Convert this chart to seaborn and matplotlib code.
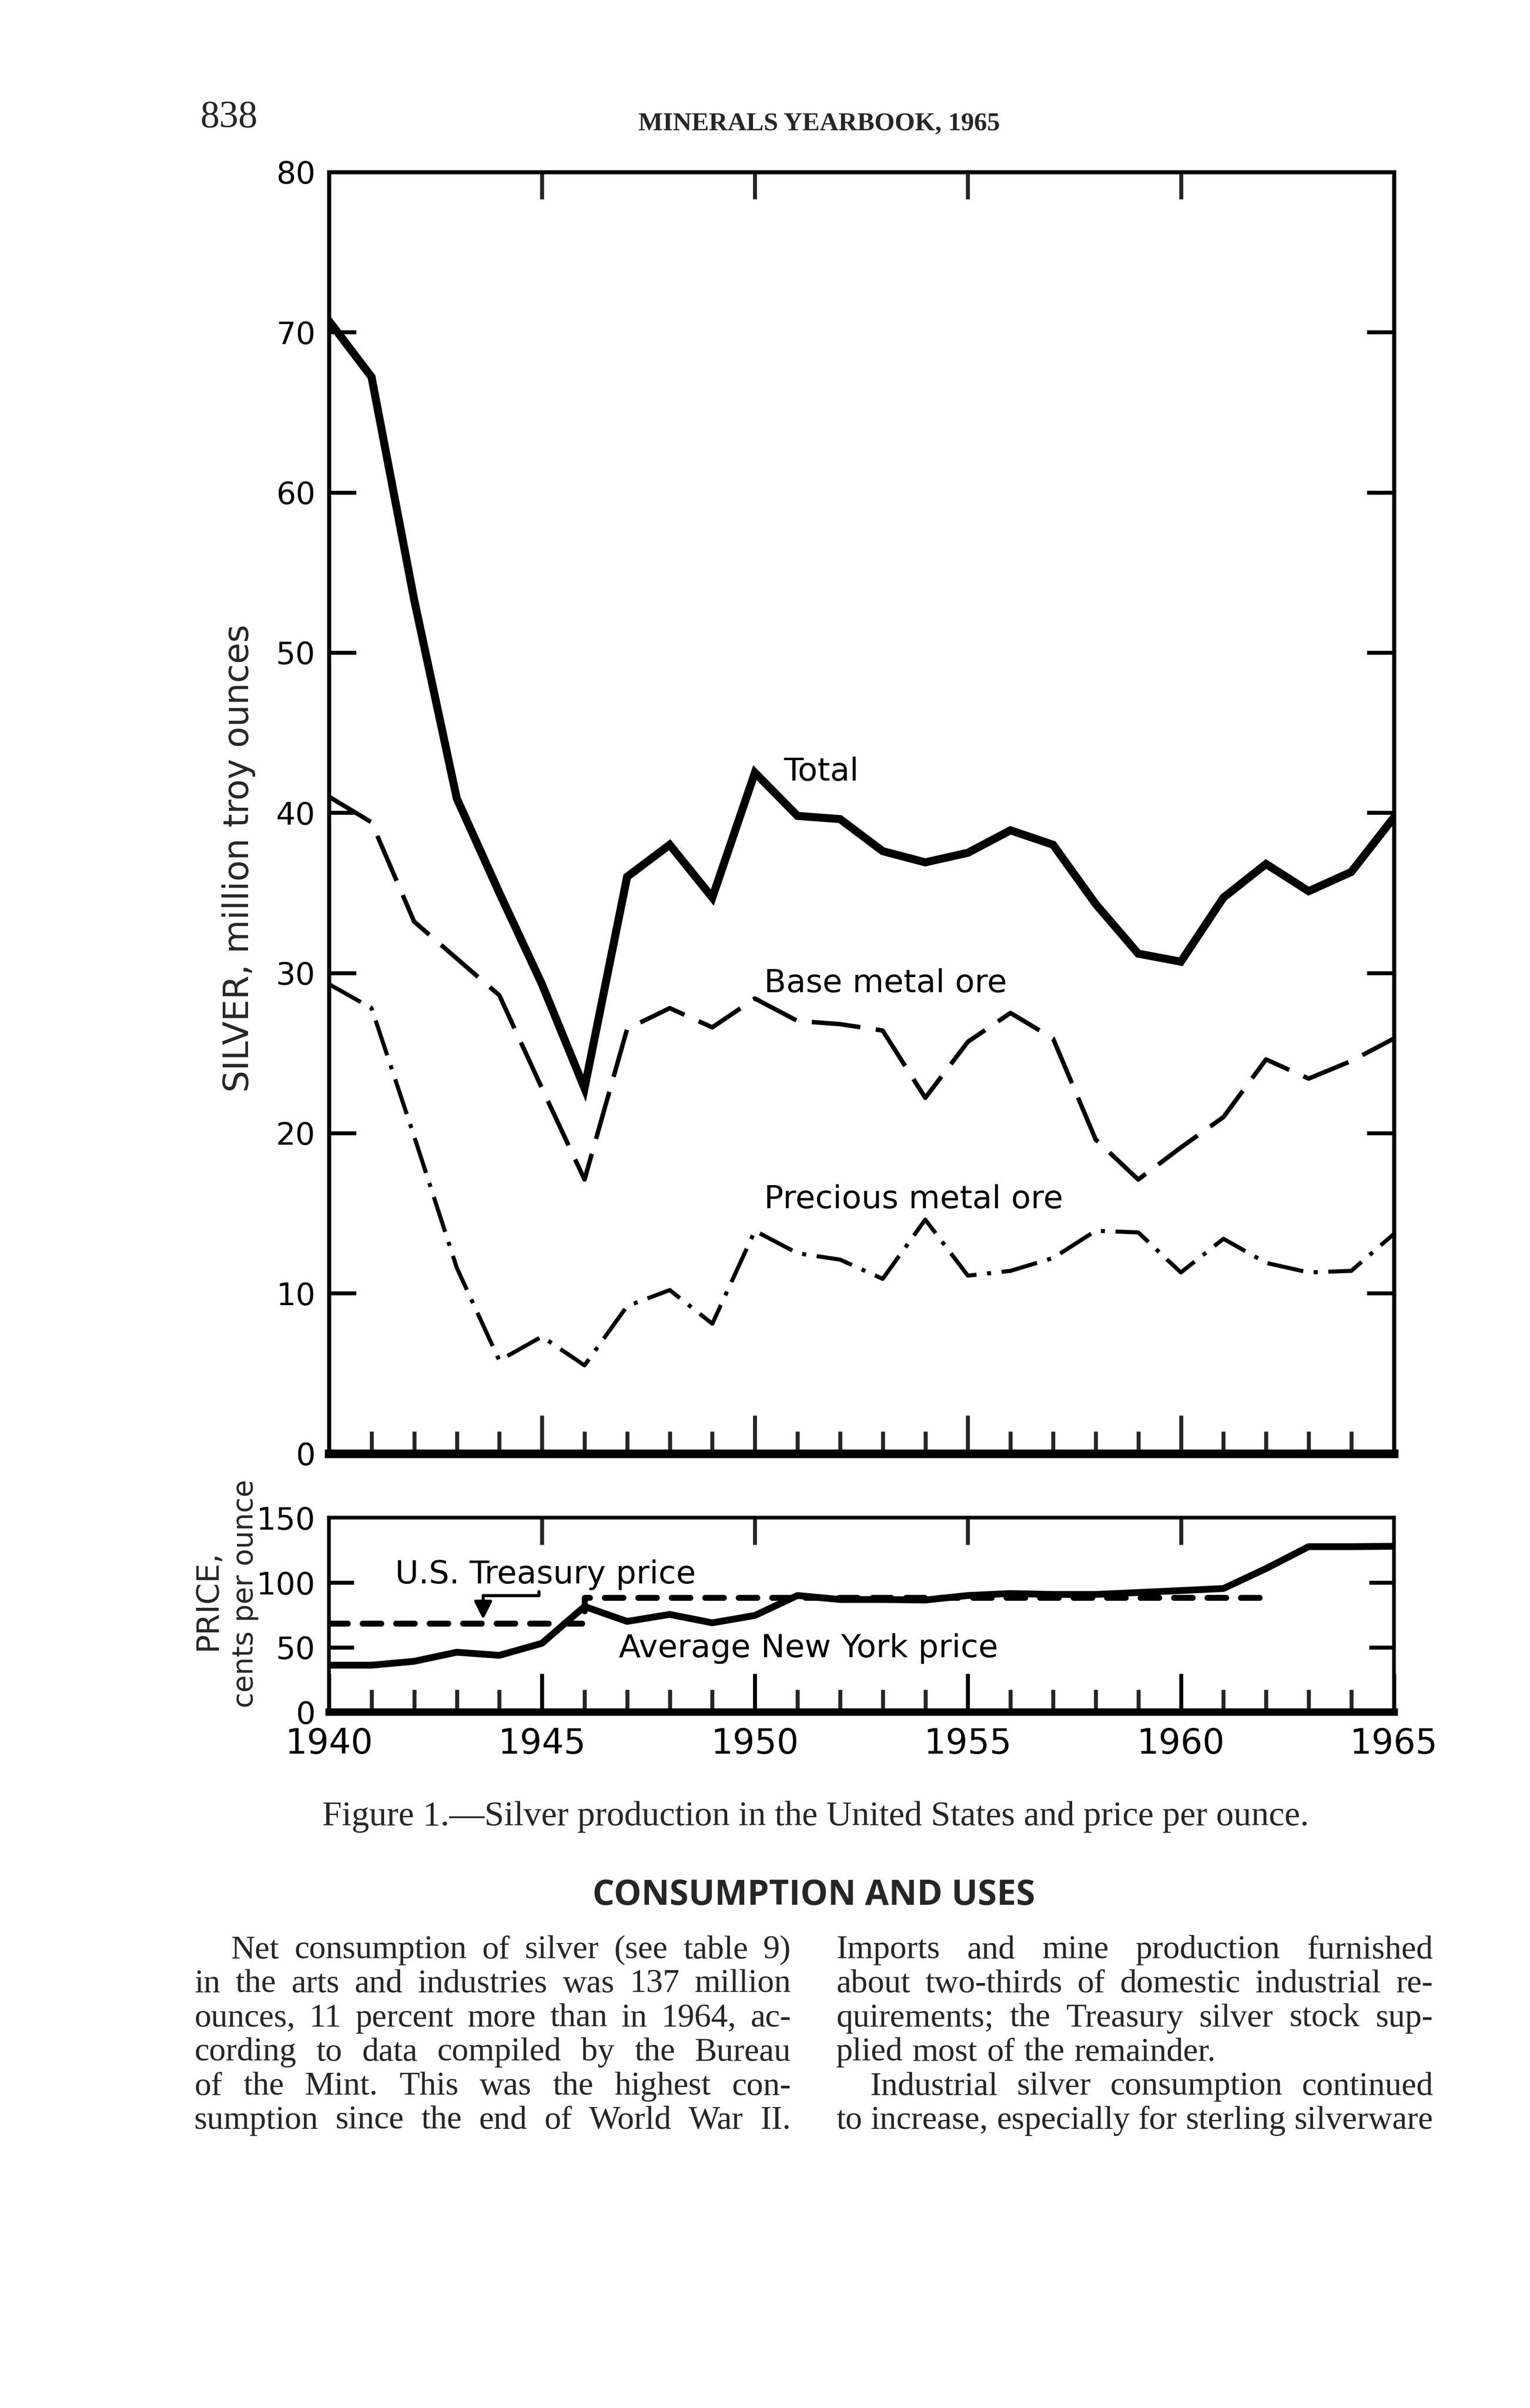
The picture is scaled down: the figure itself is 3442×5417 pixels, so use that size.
import matplotlib
matplotlib.use('Agg')
import matplotlib.pyplot as plt
import seaborn as sns
import pandas as pd

# Dados (produção em milhões de onças troy, preço em centavos/onça)
anos = list(range(1940, 1966))
total = [70.7, 67.2, 53.3, 40.9, 35.0, 29.3, 22.8, 36.0, 38.0, 34.7, 42.5, 39.8, 39.6,
         37.6, 36.9, 37.5, 38.9, 38.0, 34.3, 31.2, 30.7, 34.7, 36.8, 35.1, 36.3, 39.7]
base_metal = [41.0, 39.4, 33.2, 30.9, 28.6, 22.8, 17.1, 26.5, 27.8, 26.6, 28.4, 27.0, 26.8,
              26.4, 22.2, 25.7, 27.5, 25.9, 19.6, 17.1, 19.1, 21.0, 24.6, 23.4, 24.5, 25.9]
precious_metal = [29.3, 27.8, 19.8, 11.6, 5.8, 7.3, 5.5, 9.2, 10.2, 8.1, 13.9, 12.5, 12.1,
                  10.9, 14.6, 11.1, 11.4, 12.2, 13.9, 13.8, 11.3, 13.4, 11.9, 11.3, 11.4, 13.7]
preco_ny = [36.2, 36.2, 39.2, 46.2, 43.8, 53.1, 81.5, 70.0, 75.4, 68.9, 74.6, 90.0, 86.9,
            86.9, 86.5, 90.0, 91.5, 90.8, 90.8, 92.3, 93.8, 95.4, 110.8, 127.7, 127.7, 128.0]
anos_tesouro = [1940, 1946, 1946, 1962]
preco_tesouro = [68.5, 68.5, 88.5, 88.5]

y_ticks_prod = [0, 10, 20, 30, 40, 50, 60, 70, 80]
y_ticks_preco = [0, 50, 100, 150]
x_ticks_anos = [1940, 1945, 1950, 1955, 1960, 1965]

df = pd.DataFrame({'ano': anos, 'total': total, 'base': base_metal,
                   'precious': precious_metal, 'ny': preco_ny})
df_tes = pd.DataFrame({'ano': anos_tesouro, 'preco': preco_tesouro})

sns.set_theme(style='white')
plt.rcParams['font.family'] = ['DejaVu Sans']

fig = plt.figure(figsize=(17.21, 27.085), dpi=200)
fig.patch.set_facecolor('white')

ax = fig.add_axes([0.215, 0.3964, 0.696, 0.5322])
ax2 = fig.add_axes([0.215, 0.2890, 0.696, 0.0807])

# Painel principal - produção
sns.lineplot(data=df, x='ano', y='total', ax=ax, color='black', lw=6.5,
             solid_joinstyle='miter')
sns.lineplot(data=df, x='ano', y='base', ax=ax, color='black', lw=3.6,
             linestyle=(0, (11, 3.5)))
sns.lineplot(data=df, x='ano', y='precious', ax=ax, color='black', lw=3.3,
             linestyle=(0, (9, 2.6, 1, 2.6)))

ax.set_xlim(1940, 1965)
ax.set_ylim(0, 80)
ax.set_xlabel('')
ax.set_ylabel('')
ax.set_yticks(y_ticks_prod)
ax.set_yticklabels([str(v) for v in y_ticks_prod])
ax.set_xticks(x_ticks_anos[1:-1])
ax.set_xticks([a for a in anos[1:-1] if a % 5 != 0], minor=True)
ax.tick_params(axis='y', direction='in', left=True, right=True, length=22, width=3.2,
               labelsize=25, pad=11, colors='black')
ax.tick_params(axis='x', which='major', direction='in', bottom=True, top=False,
               length=31, width=3.2, labelbottom=False)
ax.tick_params(axis='x', which='minor', direction='in', bottom=True, top=False,
               length=18, width=3.2)
for t in ax.yaxis.get_major_ticks():
    if t.get_loc() in (0, 80):
        t.tick1line.set_visible(False)
        t.tick2line.set_visible(False)
top = ax.secondary_xaxis('top')
top.set_xticks(x_ticks_anos[1:-1])
top.tick_params(direction='in', length=22, width=3.2, labeltop=False)
top.spines['top'].set_visible(False)
for s in ['left', 'right', 'top']:
    ax.spines[s].set_linewidth(3.3)
    ax.spines[s].set_color('black')
ax.spines['bottom'].set_linewidth(7)
ax.spines['bottom'].set_color('black')

lab = dict(fontsize=26, color='black', weight='medium')
ax.text(1950.68, 42.0, 'Total', **lab)
ax.text(1950.22, 28.8, 'Base metal ore', **lab)
ax.text(1950.22, 15.3, 'Precious metal ore', **lab)

# Painel inferior - preço
sns.lineplot(data=df, x='ano', y='ny', ax=ax2, color='black', lw=5.5)
sns.lineplot(data=df_tes, x='ano', y='preco', ax=ax2, color='black', lw=4.8,
             estimator=None, sort=False, linestyle=(0, (3.15, 2.5)),
             dash_capstyle='round')

ax2.set_xlim(1940, 1965)
ax2.set_ylim(0, 150)
ax2.set_xlabel('')
ax2.set_ylabel('')
ax2.set_yticks(y_ticks_preco)
ax2.set_yticklabels([str(v) for v in y_ticks_preco])
ax2.set_xticks(x_ticks_anos)
ax2.set_xticklabels([str(v) for v in x_ticks_anos])
ax2.set_xticks([a for a in anos[1:-1] if a % 5 != 0], minor=True)
ax2.tick_params(axis='y', direction='in', left=True, right=True, length=20, width=3.2,
                labelsize=25, pad=11, colors='black')
ax2.tick_params(axis='x', which='major', direction='in', bottom=True, top=False,
                length=31, width=3.2, labelsize=28, pad=12, colors='black')
ax2.tick_params(axis='x', which='minor', direction='in', bottom=True, top=False,
                length=18, width=3.2)
for t in ax2.yaxis.get_major_ticks():
    if t.get_loc() in (0, 150):
        t.tick1line.set_visible(False)
        t.tick2line.set_visible(False)
top2 = ax2.secondary_xaxis('top')
top2.set_xticks(x_ticks_anos[1:-1])
top2.tick_params(direction='in', length=22, width=3.2, labeltop=False)
top2.spines['top'].set_visible(False)
for s in ['left', 'right', 'top']:
    ax2.spines[s].set_linewidth(3.0)
    ax2.spines[s].set_color('black')
ax2.spines['bottom'].set_linewidth(6)
ax2.spines['bottom'].set_color('black')

ax2.text(1941.55, 99.5, 'U.S. Treasury price', **lab)
ax2.text(1946.8, 42.3, 'Average New York price', **lab)
# colchete que liga o rótulo do Tesouro à linha tracejada
ax2.plot([1944.93, 1944.93, 1943.62], [93.0, 90.0, 90.0], color='black', lw=2.5)
ax2.annotate('', xy=(1943.62, 71.5), xytext=(1943.62, 90.0),
             arrowprops=dict(arrowstyle='-|>', color='black', lw=2.5,
                             mutation_scale=30, shrinkA=0, shrinkB=0))

# Rótulos dos eixos
fig.text(0.156, 0.6435, 'SILVER, million troy ounces', rotation=90, fontsize=28,
         weight='medium', ha='center', va='center')
fig.text(0.1355, 0.3354, 'PRICE,', rotation=90, fontsize=25, weight='medium',
         ha='center', va='center')
fig.text(0.160, 0.3382, 'cents per ounce', rotation=90, fontsize=23, weight='medium',
         ha='center', va='center')

# Texto da página
serif = ['Liberation Serif', 'DejaVu Serif']
fig.text(0.131, 0.9473, '838', fontsize=31, family=serif, ha='left', va='baseline')
fig.text(0.5355, 0.946, 'MINERALS YEARBOOK, 1965', fontsize=21, family=serif,
         weight='bold', ha='center', va='baseline')
fig.text(0.533, 0.2420,
         'Figure 1.\u2014Silver production in the United States and price per ounce.',
         fontsize=28.5, family=serif, ha='center', va='baseline')
fig.text(0.532, 0.2089, 'CONSUMPTION AND USES', fontsize=28, weight='bold',
         family=['Open Sans', 'DejaVu Sans'], ha='center', va='baseline')

col_esq = [
    ('Net consumption of silver (see table 9)', True, False),
    ('in the arts and industries was 137 million', False, False),
    ('ounces, 11 percent more than in 1964, ac-', False, False),
    ('cording to data compiled by the Bureau', False, False),
    ('of the Mint.  This was the highest con-', False, False),
    ('sumption since the end of World War II.', False, False),
]
col_dir = [
    ('Imports and mine production furnished', False, False),
    ('about two-thirds of domestic industrial re-', False, False),
    ('quirements; the Treasury silver stock sup-', False, False),
    ('plied most of the remainder.', False, True),
    ('Industrial silver consumption continued', True, False),
    ('to increase, especially for sterling silverware', False, False),
]
baselines = [1279.8, 1302.1, 1324.4, 1346.7, 1369.0, 1391.3]

fig.canvas.draw()
rend = fig.canvas.get_renderer()
W = fig.bbox.width


def justificar(linhas, x0, x1, indent):
    for (linha, recuo, ultima), yb in zip(linhas, baselines):
        y = 1 - yb / 1573.8
        palavras = linha.split()
        txts = [fig.text(0, y, p, fontsize=27, family=serif, va='baseline')
                for p in palavras]
        larg = [t.get_window_extent(rend).width / W for t in txts]
        inicio = x0 + (indent if recuo else 0)
        if ultima or len(txts) == 1:
            esp = 0.0062
        else:
            esp = (x1 - inicio - sum(larg)) / (len(txts) - 1)
        x = inicio
        for t, w in zip(txts, larg):
            t.set_x(x)
            x += w + esp


justificar(col_esq, 0.127, 0.517, 0.024)
justificar(col_dir, 0.5465, 0.9367, 0.022)

fig.savefig('out.png', dpi=200, facecolor='white')
